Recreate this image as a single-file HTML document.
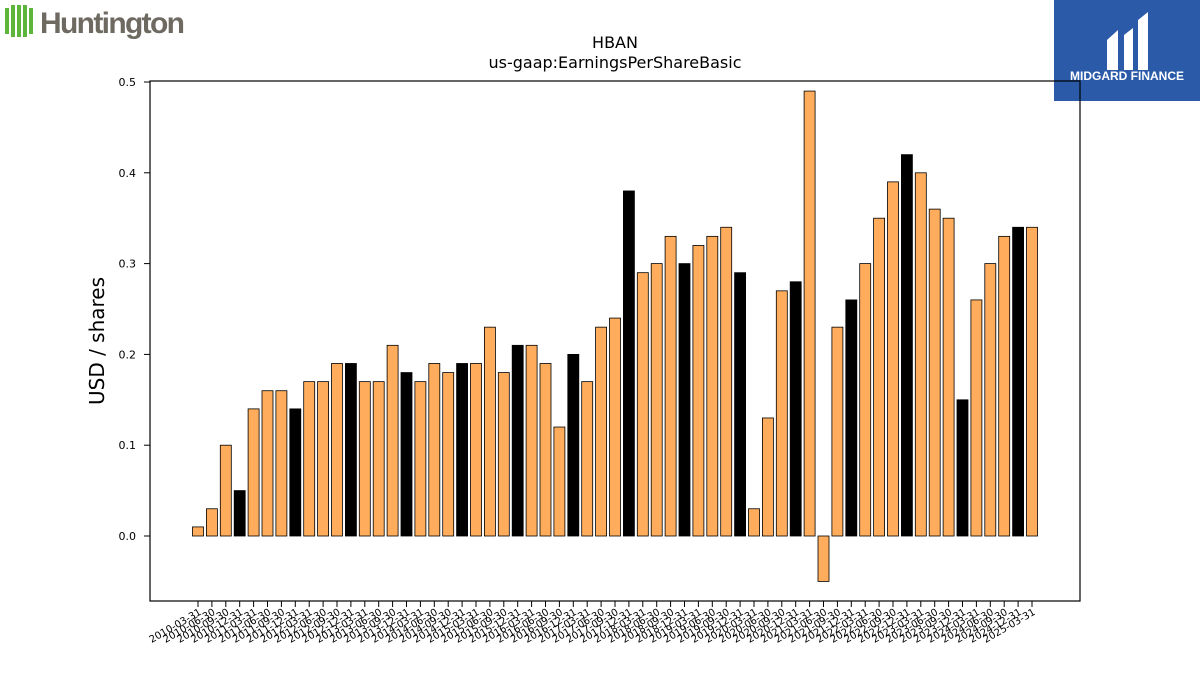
<!DOCTYPE html>
<html><head><meta charset="utf-8"><style>
body{margin:0;background:#fff;width:1200px;height:675px;overflow:hidden;font-family:"DejaVu Sans","Liberation Sans",sans-serif}
</style></head><body>
<svg id="chart" width="1200" height="675" xmlns="http://www.w3.org/2000/svg">
<g>
<rect x="5" y="8" width="4" height="26" fill="#5db53a"/><rect x="11" y="5" width="4" height="32" fill="#5db53a"/><rect x="17" y="5" width="4" height="32" fill="#5db53a"/><rect x="23" y="5" width="4" height="32" fill="#5db53a"/><rect x="29" y="8" width="4" height="26" fill="#5db53a"/>
<text x="40" y="33" font-family="Liberation Sans, sans-serif" font-weight="bold" font-size="30" fill="#6e6a62" textLength="145">Huntington</text>
</g>
<g>
<rect x="1054" y="0" width="146" height="101" fill="#2a5aa8"/>
<path d="M1107 70 L1107 40 L1118 30 L1118 70 Z M1124 70 L1124 35 L1133 28 L1133 70 Z M1138 70 L1138 20 L1148 12 L1148 70 Z" fill="#fff"/>
<text x="1127" y="80" text-anchor="middle" font-family="Liberation Sans, sans-serif" font-weight="bold" font-size="12" fill="#fff">MIDGARD FINANCE</text>
</g>
<text x="615" y="48" text-anchor="middle" font-size="16">HBAN</text>
<text x="615" y="68" text-anchor="middle" font-size="16">us-gaap:EarningsPerShareBasic</text>
<text transform="translate(104,341) rotate(-90)" text-anchor="middle" font-size="20">USD / shares</text>
<g id="yticks"></g><g id="bars"></g><g id="xticks"></g>
<rect x="150" y="81" width="930" height="520" fill="none" stroke="#000" stroke-width="1.2"/>
</svg>
<script>
const values=[0.01,0.03,0.10,0.05,0.14,0.16,0.16,0.14,0.17,0.17,0.19,0.19,0.17,0.17,0.21,0.18,0.17,0.19,0.18,0.19,0.19,0.23,0.18,0.21,0.21,0.19,0.12,0.20,0.17,0.23,0.24,0.38,0.29,0.30,0.33,0.30,0.32,0.33,0.34,0.29,0.03,0.13,0.27,0.28,0.49,-0.05,0.23,0.26,0.30,0.35,0.39,0.42,0.40,0.36,0.35,0.15,0.26,0.30,0.33,0.34,0.34];
const yTicks=[0.0,0.1,0.2,0.3,0.4,0.5];
const qEnds=["03-31","06-30","09-30","12-31"];
const dates=[];for(let i=0;i<values.length;i++){dates.push((2010+Math.floor(i/4))+"-"+qEnds[i%4]);}
const NS="http://www.w3.org/2000/svg";
const y=v=>536-v*908;
const step=(1032-198)/(values.length-1);
const x=i=>198+i*step;
function mk(t,a,p){const e=document.createElementNS(NS,t);for(const k in a)e.setAttribute(k,a[k]);p.appendChild(e);return e;}
const yt=document.getElementById('yticks');
yTicks.forEach(v=>{
 const l=mk('line',{x1:144,x2:150,y1:y(v),y2:y(v),stroke:'#000'},yt);
 
 
 const t=mk('text',{x:136,y:y(v)+4,'text-anchor':'end','font-size':11},yt);t.textContent=v.toFixed(1);
 
 
});
const bg=document.getElementById('bars'),xg=document.getElementById('xticks');
const bw=11;
values.forEach((v,i)=>{
 const r=mk('rect',{x:x(i)-bw/2,y:Math.min(y(v),y(0)),width:bw,height:Math.abs(y(v)-y(0)),fill:(i%4===3)?'#000':'#ffad5c',stroke:'#000','stroke-width':0.8},bg);
 
 
 const tk=mk('line',{x1:x(i),x2:x(i),y1:601,y2:607,stroke:'#000'},xg);
 
 
 const t=mk('text',{transform:`translate(${x(i)+4},${614}) rotate(-30)`,'text-anchor':'end','font-size':10},xg);
 t.textContent=dates[i];
 
 
});
</script>
</body></html>
